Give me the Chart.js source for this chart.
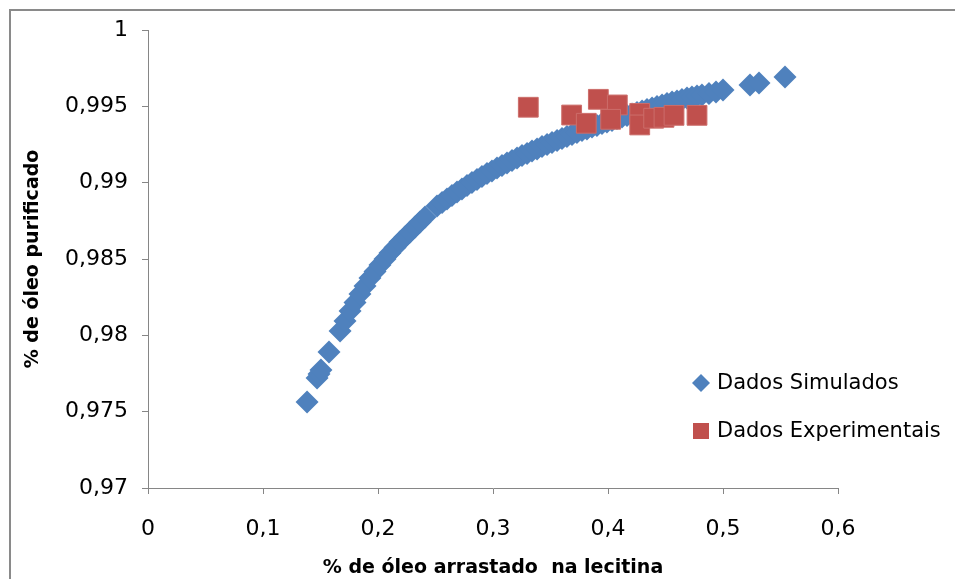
<!DOCTYPE html>
<html lang="pt">
<head>
<meta charset="utf-8">
<title>% de óleo purificado x % de óleo arrastado na lecitina</title>
<script src="https://cdn.jsdelivr.net/npm/chart.js@4.4.1/dist/chart.umd.min.js"></script>
<style>
  html, body { margin: 0; padding: 0; background: #fff; }
  #caixa { width: 955px; height: 579px; }
</style>
</head>
<body>
<div id="caixa"><canvas id="grafico" width="955" height="579"></canvas></div>
<script>
// Dados simulados: fração de óleo arrastado x fração de óleo purificado
const simX = [
  0.1383, 0.1470, 0.1487, 0.1504, 0.1574,
  0.1670, 0.1713, 0.1757, 0.1800, 0.1843, 0.1887, 0.1930, 0.1974, 0.2017, 0.2061,
  0.2104, 0.2148, 0.2191, 0.2235, 0.2278, 0.2322, 0.2365, 0.2409,
  0.2513, 0.2557, 0.2600, 0.2643, 0.2687, 0.2730, 0.2774, 0.2817, 0.2861, 0.2904,
  0.2948, 0.2991, 0.3035, 0.3078, 0.3122, 0.3165, 0.3209, 0.3252, 0.3296, 0.3339,
  0.3383, 0.3426, 0.3470, 0.3513, 0.3557, 0.3600, 0.3643, 0.3687, 0.3730, 0.3774,
  0.3817, 0.3861, 0.3904, 0.3948, 0.3991, 0.4035, 0.4078, 0.4122, 0.4165, 0.4209,
  0.4252, 0.4296, 0.4339, 0.4383, 0.4426, 0.4470, 0.4513, 0.4557, 0.4600, 0.4643,
  0.4687, 0.4730, 0.4774, 0.4817, 0.4878, 0.4939, 0.5000,
  0.5235, 0.5313, 0.5539
];
const simY = [
  0.97563, 0.97721, 0.97747, 0.97773, 0.97891,
  0.98028, 0.98094, 0.98159, 0.98215, 0.98271, 0.98323, 0.98376, 0.98418, 0.98461, 0.98500,
  0.98539, 0.98575, 0.98611, 0.98644, 0.98677, 0.98710, 0.98742, 0.98775,
  0.98847, 0.98870, 0.98893, 0.98916, 0.98939, 0.98959, 0.98981, 0.99001, 0.99021, 0.99040,
  0.99060, 0.99076, 0.99096, 0.99112, 0.99129, 0.99145, 0.99162, 0.99178, 0.99191, 0.99207,
  0.99221, 0.99237, 0.99250, 0.99263, 0.99276, 0.99289, 0.99302, 0.99316, 0.99329, 0.99342,
  0.99352, 0.99365, 0.99374, 0.99388, 0.99397, 0.99407, 0.99420, 0.99430, 0.99440, 0.99450,
  0.99460, 0.99469, 0.99479, 0.99489, 0.99499, 0.99509, 0.99519, 0.99528, 0.99535, 0.99545,
  0.99555, 0.99561, 0.99568, 0.99574, 0.99584, 0.99594, 0.99607,
  0.99640, 0.99653, 0.99692
];

// Dados experimentais
const expX = [0.3307, 0.3684, 0.3811, 0.3916, 0.4081, 0.4023, 0.4276, 0.4276, 0.4397, 0.4487, 0.4574, 0.4774];
const expY = [0.99494, 0.99443, 0.99389, 0.99546, 0.99509, 0.99415, 0.99454, 0.99378, 0.99422, 0.99428, 0.99441, 0.99441];

// Marcas dos eixos
const ticksX = [0, 0.1, 0.2, 0.3, 0.4, 0.5, 0.6];
const ticksY = [0.97, 0.975, 0.98, 0.985, 0.99, 0.995, 1];

const nomes = ['Dados Simulados', 'Dados Experimentais'];
const cores = ['#4F81BD', '#C0504D'];

const fonte = "'DejaVu Sans', 'Liberation Sans', sans-serif";
Chart.defaults.font.family = fonte;
Chart.defaults.color = '#000';

// número com vírgula decimal
const virgula = v => String(Number(v.toFixed(4))).replace('.', ',');

const pares = (xs, ys) => xs.map((x, i) => ({ x: x, y: ys[i] }));

// moldura cinza em volta do gráfico
const moldura = {
  id: 'moldura',
  beforeDraw(chart) {
    const ctx = chart.ctx;
    ctx.save();
    ctx.fillStyle = '#fff';
    ctx.fillRect(0, 0, chart.width, chart.height);
    ctx.strokeStyle = '#8a8a8a';
    ctx.lineWidth = 2;
    ctx.strokeRect(10, 10, chart.width + 40, chart.height + 40);
    ctx.restore();
  }
};

// legenda desenhada à direita, abaixo do meio
const legenda = {
  id: 'legenda',
  afterDraw(chart) {
    const ctx = chart.ctx;
    const xm = 701;
    const linhas = [383, 431];
    chart.data.datasets.forEach((ds, i) => {
      const y = linhas[i];
      ctx.save();
      ctx.fillStyle = ds.backgroundColor;
      ctx.beginPath();
      if (ds.pointStyle === 'rectRot') {
        ctx.moveTo(xm - 9, y);
        ctx.lineTo(xm, y - 9);
        ctx.lineTo(xm + 9, y);
        ctx.lineTo(xm, y + 9);
        ctx.closePath();
      } else {
        ctx.rect(xm - 8, y - 8, 16, 16);
      }
      ctx.fill();
      ctx.fillStyle = '#000';
      ctx.font = '21px ' + fonte;
      ctx.textBaseline = 'middle';
      ctx.fillText(ds.label, 717, y + 1);
      ctx.restore();
    });
  }
};

const eixoComum = {
  grid: { display: true, drawOnChartArea: false, drawTicks: true, tickLength: 6, color: '#868686' },
  border: { display: true, color: '#868686', width: 1 }
};

new Chart(document.getElementById('grafico'), {
  type: 'scatter',
  data: {
    datasets: [
      {
        label: nomes[0],
        data: pares(simX, simY),
        pointStyle: 'rectRot',
        pointRadius: 11.5,
        backgroundColor: cores[0],
        borderColor: cores[0],
        borderWidth: 0,
        order: 2
      },
      {
        label: nomes[1],
        data: pares(expX, expY),
        pointStyle: 'rect',
        pointRadius: 14,
        backgroundColor: cores[1],
        borderColor: '#cc6d6a',
        borderWidth: 1,
        order: 1
      }
    ]
  },
  options: {
    responsive: false,
    animation: false,
    events: [],
    layout: { padding: { left: 12, top: 30, right: 117, bottom: 0 } },
    plugins: {
      legend: { display: false },
      tooltip: { enabled: false }
    },
    scales: {
      x: {
        ...eixoComum,
        type: 'linear',
        min: 0,
        max: 0.6,
        afterBuildTicks: s => { s.ticks = ticksX.map(v => ({ value: v })); },
        afterFit: s => { s.height = 91; },
        ticks: { font: { size: 22 }, padding: 22, maxRotation: 0, callback: v => virgula(v) },
        title: {
          display: true,
          text: '% de óleo arrastado  na lecitina',
          font: { size: 19, weight: 'bold' },
          padding: { top: 0, bottom: 0 }
        }
      },
      y: {
        ...eixoComum,
        type: 'linear',
        min: 0.97,
        max: 1,
        afterBuildTicks: s => { s.ticks = ticksY.map(v => ({ value: v })); },
        afterFit: s => { s.width = 136; },
        ticks: { font: { size: 22 }, padding: 14, callback: v => virgula(v) },
        title: {
          display: true,
          text: '% de óleo purificado',
          font: { size: 19, weight: 'bold' },
          padding: { top: 10, bottom: 0 }
        }
      }
    }
  },
  plugins: [moldura, legenda]
});
</script>
</body>
</html>
